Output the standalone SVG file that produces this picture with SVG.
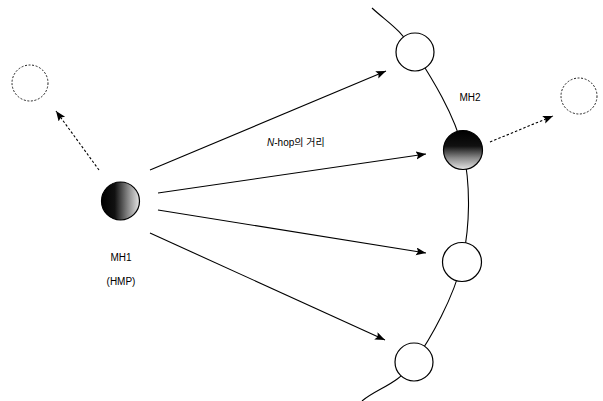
<svg xmlns="http://www.w3.org/2000/svg" width="603" height="401" viewBox="0 0 603 401">
<style>
.node{fill:#fff;stroke:#000;stroke-width:1.2}
.ghost{fill:none;stroke:#222;stroke-width:1;stroke-dasharray:2 1.6}
.edge{stroke:#000;stroke-width:1.1;fill:none}
.dash{stroke:#000;stroke-width:1.1;fill:none;stroke-dasharray:2.5 2}
.arc{stroke:#000;stroke-width:1.1;fill:none}
text{font-family:"Liberation Sans","Noto Sans CJK KR",sans-serif;font-size:10px;fill:#000}
</style>
<defs>
<marker id="ah" markerUnits="userSpaceOnUse" markerWidth="12" markerHeight="10" refX="10" refY="4" orient="auto">
<path d="M0,0 L10,4 L0,8 L2,4 Z" fill="#000" stroke="none"/>
</marker>
<linearGradient id="g1" x1="0" y1="0" x2="1" y2="0">
<stop offset="0" stop-color="#000"/>
<stop offset="0.35" stop-color="#111"/>
<stop offset="0.7" stop-color="#888"/>
<stop offset="1" stop-color="#e6e6e6"/>
</linearGradient>
<linearGradient id="g2" x1="0" y1="0" x2="0" y2="1">
<stop offset="0" stop-color="#000"/>
<stop offset="0.4" stop-color="#111"/>
<stop offset="0.7" stop-color="#888"/>
<stop offset="1" stop-color="#e6e6e6"/>
</linearGradient>
</defs>
<path class="arc" d="M372,8 C387,22 399.8,28.3 415,52 C430.2,75.7 455.2,115 463,150 C470.8,185 470.2,226.7 462,262 C453.8,297.3 430.7,338.8 414,362 C397.3,385.2 378.7,387.3 362,401"/>
<g id="connectors">
<line class="edge" x1="150" y1="170" x2="386" y2="71" marker-end="url(#ah)"/>
<line class="edge" x1="158" y1="193" x2="426" y2="154" marker-end="url(#ah)"/>
<line class="edge" x1="158" y1="210" x2="426" y2="253" marker-end="url(#ah)"/>
<line class="edge" x1="150" y1="233" x2="385" y2="340" marker-end="url(#ah)"/>
<line class="dash" x1="99" y1="170" x2="56" y2="111" marker-end="url(#ah)"/>
<line class="dash" x1="490" y1="142" x2="553" y2="116" marker-end="url(#ah)"/>
</g>
<g id="ghost-left"><circle class="ghost" cx="30" cy="83" r="18"/></g>
<g id="ghost-right"><circle class="ghost" cx="579" cy="96" r="18"/></g>
<g id="mh1">
<circle cx="120.5" cy="201" r="19" fill="url(#g1)" stroke="#000" stroke-width="1.2"/>
<text x="121" y="261" text-anchor="middle">MH1</text>
<text x="121" y="285" text-anchor="middle">(HMP)</text>
</g>
<g id="n-top"><circle class="node" cx="415" cy="52" r="19"/></g>
<g id="mh2">
<circle cx="463" cy="150" r="19.5" fill="url(#g2)" stroke="#000" stroke-width="1.2"/>
<text x="470" y="101" text-anchor="middle">MH2</text>
</g>
<g id="n-mid"><circle class="node" cx="462" cy="262" r="19.5"/></g>
<g id="n-bot"><circle class="node" cx="414" cy="362" r="19"/></g>
<g id="label"><text x="267" y="146"><tspan font-style="italic">N</tspan>-hop의 거리</text></g>
</svg>
